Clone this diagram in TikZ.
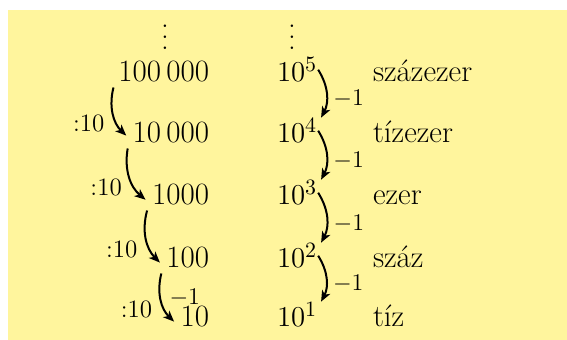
\documentclass[tikz,border=0pt]{standalone}
\usepackage[dvipsnames]{xcolor}
\usetikzlibrary{arrows.meta}
\definecolor{lapsarga}{RGB}{255,245,157}
\newcommand{\pontok}{\vbox{\baselineskip5.5pt\lineskiplimit0pt\hbox{.}\hbox{.}\hbox{.}}}

\begin{document}
\begin{tikzpicture}[x=0.5pt,y=-0.5pt,->,>={Stealth[length=5.5pt,width=4.5pt,inset=1.5pt]},shorten >=1pt,line width=1pt,
  num/.style={inner sep=2pt,font=\fontsize{15.5}{18}\selectfont},
  lbl/.style={inner sep=1pt,font=\fontsize{12.5}{15}\selectfont}]

            \fill[lapsarga] (8,10) rectangle (567,340);
            \useasboundingbox (0,0) rectangle (567,340);

            \node[num] (d1) at (165,37) {\pontok};
            \node[num] (d2) at (292,37) {\pontok};

            \node[num, anchor=base east] (1) at (214,82) {100\,000};
            \node[num, anchor=base east] (2) at (214,143) {10\,000};
            \node[num, anchor=base east] (3) at (214,205) {1000};
            \node[num, anchor=base east] (4) at (214,268) {100};
            \node[num, anchor=base east] (5) at (214,327) {10};

            \node[num, anchor=base west] (6) at (272,82) {$10^5$};
            \node[num, anchor=base west] (7) at (272,143) {$10^4$};
            \node[num, anchor=base west] (8) at (272,205) {$10^3$};
            \node[num, anchor=base west] (9) at (272,268) {$10^2$};
            \node[num, anchor=base west] (10) at (272,327) {$10^1$};

            \node[num, anchor=base west] (11) at (368,82) {százezer};
            \node[num, anchor=base west] (12) at (368,143) {tízezer};
            \node[num, anchor=base west] (13) at (368,205) {ezer};
            \node[num, anchor=base west] (14) at (368,268) {száz};
            \node[num, anchor=base west] (15) at (368,327) {tíz};

            \draw (1.south west) to[bend right=30] node[lbl, left=5pt, pos=0.7] {:10} ([yshift=-2pt]2.west);
            \draw (2.south west) to[bend right=30] node[lbl, left=5pt, pos=0.7] {:10} ([yshift=-3pt]3.west);
            \draw (3.south west) to[bend right=30] node[lbl, left=5pt, pos=0.7] {:10} ([yshift=-3pt]4.west);
            \draw (4.south west) to[bend right=30] node[lbl, left=5pt, pos=0.7] {:10}
                node[lbl, right=3pt, pos=0.45] {$-1$} ([yshift=-3pt]5.west);

            \draw ([xshift=-2pt]6.east) to[bend left=30] node[lbl, right=2pt, pos=0.6] {$-1$} ([xshift=-1pt,yshift=-3pt]7.north east);
            \draw ([xshift=-2pt]7.east) to[bend left=30] node[lbl, right=2pt, pos=0.6] {$-1$} ([xshift=-1pt,yshift=-3pt]8.north east);
            \draw ([xshift=-2pt]8.east) to[bend left=30] node[lbl, right=2pt, pos=0.6] {$-1$} ([xshift=-1pt,yshift=-3pt]9.north east);
            \draw ([xshift=-2pt]9.east) to[bend left=30] node[lbl, right=2pt, pos=0.6] {$-1$} ([xshift=-1pt,yshift=-3pt]10.north east);

            ;
        \end{tikzpicture}
\end{document}
